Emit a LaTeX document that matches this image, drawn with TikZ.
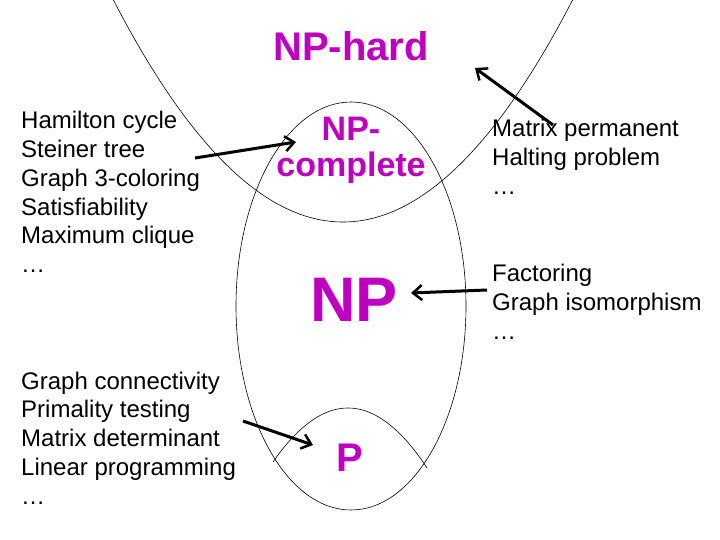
\documentclass[tikz,border=0pt]{standalone}
\usepackage{fontspec}
\setmainfont{Liberation Sans}
\usetikzlibrary{arrows.meta}
\definecolor{mag}{RGB}{192,0,192}
\begin{document}
\begin{tikzpicture}[x=1pt,y=-1pt,
  lst/.style={align=left,font=\fontsize{24}{28.8}\selectfont,inner sep=0pt},
  cls/.style={text=mag,font=\bfseries,inner sep=0pt},
  arr/.style={line width=3pt,-{Straight Barb[length=9pt,width=15pt,line width=2.5pt]}},
  thin/.style={line width=0.6pt}]
\useasboundingbox (0,0) rectangle (720,540);
\draw[thin] (351,306) ellipse [x radius=115, y radius=204];
\draw[thin] plot[domain=113:573,samples=80,smooth] (\x,{222-0.00421*(\x-343)*(\x-343)});
\draw[thin] plot[domain=273:427,samples=40,smooth] (\x,{408+0.0096*(\x-348)*(\x-348)});
\node[cls,font=\bfseries\fontsize{40}{40}\selectfont] (nph) at (351,46) {NP-hard};
\node[cls,align=center,font=\bfseries\fontsize{34}{36}\selectfont] (npc) at (351,150) {NP-\\complete};
\node[cls,font=\bfseries\fontsize{63}{63}\selectfont] (np) at (354,300) {NP};
\node[cls,font=\bfseries\fontsize{40}{40}\selectfont] (p) at (350,458) {P};
\node[lst,anchor=west] (l1) at (21,192) {Hamilton cycle\\Steiner tree\\Graph 3-coloring\\Satisfiability\\Maximum clique\\…};
\node[lst,anchor=west] (l2) at (21,438) {Graph connectivity\\Primality testing\\Matrix determinant\\Linear programming\\…};
\node[lst,anchor=west] (r1) at (492,157) {Matrix permanent\\Halting problem\\…};
\node[lst,anchor=west] (r2) at (492,302) {Factoring\\Graph isomorphism\\…};
\coordinate (a1s) at (195,158); \coordinate (a1e) at (296,142);
\coordinate (a2s) at (243,421); \coordinate (a2e) at (313,445);
\coordinate (a3s) at (487,290); \coordinate (a3e) at (411,293);
\coordinate (a4s) at (553,125); \coordinate (a4e) at (475,68);
\draw[arr] (a1s) -- (a1e);
\draw[arr] (a2s) -- (a2e);
\draw[arr] (a3s) -- (a3e);
\draw[arr] (a4s) -- (a4e);
\end{tikzpicture}
\end{document}
